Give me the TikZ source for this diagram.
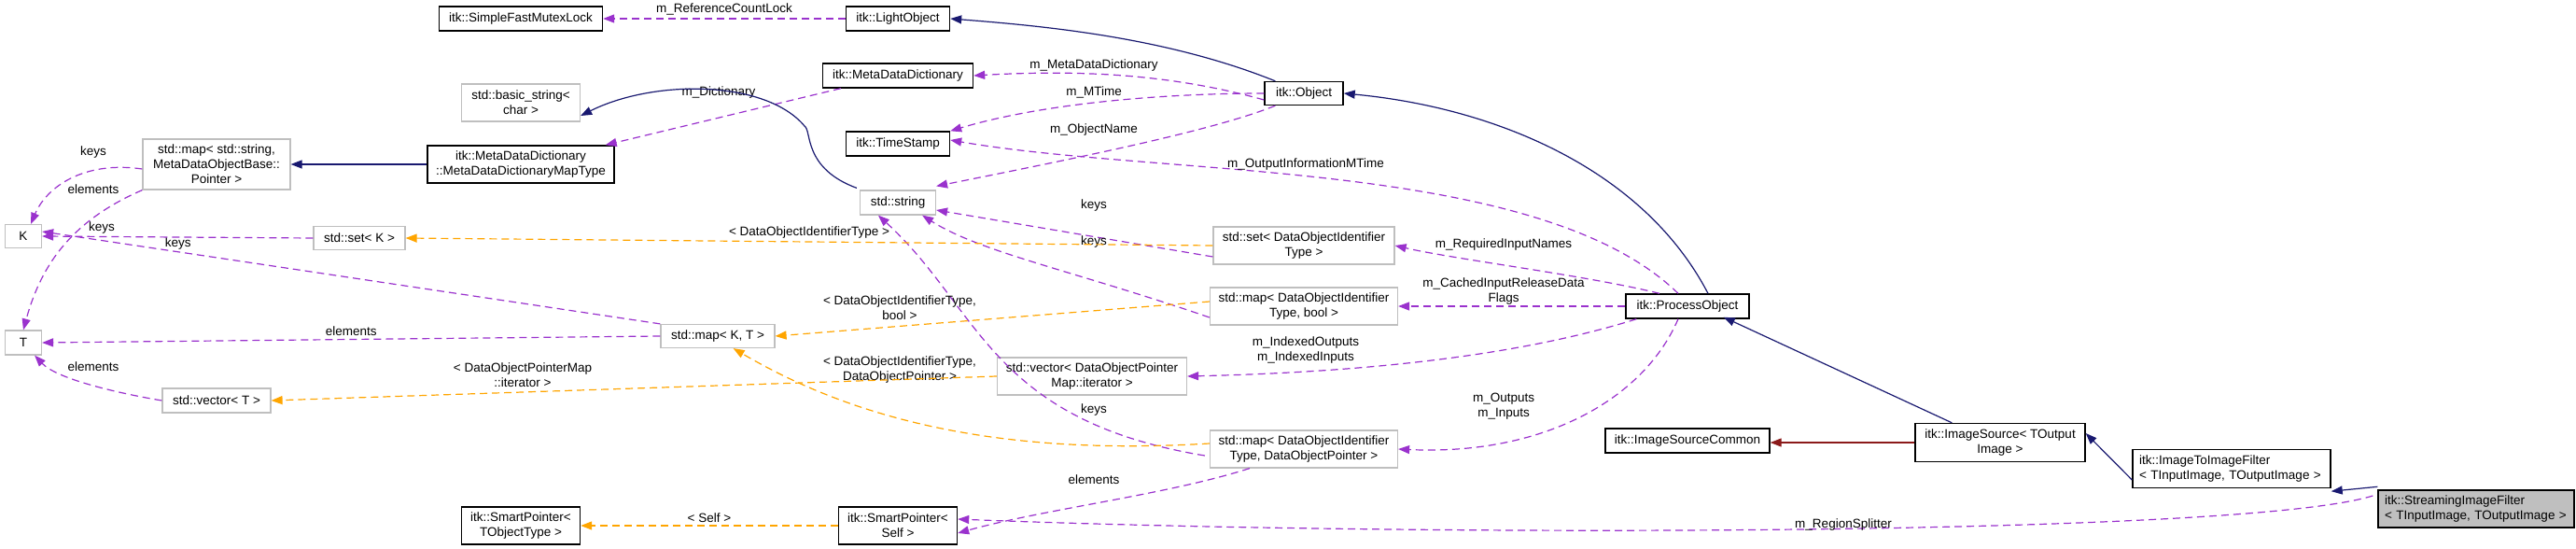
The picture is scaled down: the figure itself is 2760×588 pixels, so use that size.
\documentclass[tikz,border=0pt]{standalone}
\usepackage{fontspec}
\setmainfont{Liberation Sans}
\usetikzlibrary{arrows.meta}
\definecolor{pur}{HTML}{9A32CD}
\definecolor{org}{HTML}{FFA500}
\definecolor{nav}{HTML}{191970}
\definecolor{fir}{HTML}{8B1A1A}
\definecolor{gbd}{HTML}{BFBFBF}
\begin{document}
\begin{tikzpicture}[x=1pt,y=-1pt,
  every node/.style={font=\fontsize{13.5}{16}\selectfont},
  cls/.style={draw=black,line width=1.4pt,fill=white,inner sep=0,align=center},
  std/.style={draw=gbd,line width=1.2pt,fill=white,inner sep=0,align=center},
  lcls/.style={cls,align=left,text width=#1-14pt},
  mem/.style={draw=pur,dashed,line width=1.2pt,dash pattern=on 8pt off 5pt,-{Triangle[length=12pt,width=9pt]}},
  tpl/.style={draw=org,dashed,line width=1.2pt,dash pattern=on 8pt off 5pt,-{Triangle[length=12pt,width=9pt]}},
  inh/.style={draw=nav,line width=1.2pt,-{Triangle[length=12pt,width=9pt]}},
  prv/.style={draw=fir,line width=1.2pt,-{Triangle[length=12pt,width=9pt]}},
  lab/.style={inner sep=0,align=center}]
\useasboundingbox (0,0) rectangle (2760,588);
% nodes
\node[cls,minimum width=175,minimum height=26] (sfml) at (558,20) {itk::SimpleFastMutexLock};
\node[cls,minimum width=111,minimum height=26] (light) at (962,20) {itk::LightObject};
\node[cls,minimum width=161,minimum height=26] (mdd) at (962,81) {itk::MetaDataDictionary};
\node[cls,minimum width=111,minimum height=26] (ts) at (962,154) {itk::TimeStamp};
\node[std,minimum width=81,minimum height=26] (str) at (962,217) {std::string};
\node[std,minimum width=127,minimum height=40] (bstr) at (558,110) {std::basic\_string<\\char >};
\node[cls,minimum width=84,minimum height=25] (obj) at (1397,100) {itk::Object};
\node[std,minimum width=158,minimum height=54] (mapstr) at (232,176) {std::map< std::string,\\MetaDataObjectBase::\\Pointer >};
\node[cls,minimum width=200,minimum height=40] (mddmt) at (558,176) {itk::MetaDataDictionary\\::MetaDataDictionaryMapType};
\node[std,minimum width=39,minimum height=25] (K) at (25,253) {K};
\node[std,minimum width=39,minimum height=26] (T) at (25,367) {T};
\node[std,minimum width=98,minimum height=25] (setK) at (385,255) {std::set< K >};
\node[std,minimum width=122,minimum height=25] (mapKT) at (769,360) {std::map< K, T >};
\node[std,minimum width=116,minimum height=26] (vecT) at (232,429) {std::vector< T >};
\node[cls,minimum width=127,minimum height=40] (spt) at (558,563) {itk::SmartPointer<\\TObjectType >};
\node[cls,minimum width=127,minimum height=40] (sps) at (962,563) {itk::SmartPointer<\\Self >};
\node[std,minimum width=194,minimum height=40] (setD) at (1397,263) {std::set< DataObjectIdentifier\\Type >};
\node[std,minimum width=201,minimum height=40] (mapDB) at (1397,328) {std::map< DataObjectIdentifier\\Type, bool >};
\node[std,minimum width=203,minimum height=40] (vecD) at (1170,403) {std::vector< DataObjectPointer\\Map::iterator >};
\node[std,minimum width=201,minimum height=40] (mapDP) at (1397,481) {std::map< DataObjectIdentifier\\Type, DataObjectPointer >};
\node[cls,minimum width=132,minimum height=26] (po) at (1808,328) {itk::ProcessObject};
\node[cls,minimum width=176,minimum height=26] (isc) at (1808,472) {itk::ImageSourceCommon};
\node[cls,minimum width=182,minimum height=41] (is) at (2143,474) {itk::ImageSource< TOutput\\Image >};
\node[lcls=212pt,minimum width=212,minimum height=41] (i2i) at (2391,502) {itk::ImageToImageFilter\\< TInputImage, TOutputImage >};
\node[lcls=210pt,minimum width=210,minimum height=40,fill=gbd] (sif) at (2653,545) {itk::StreamingImageFilter\\< TInputImage, TOutputImage >};
% edges
\draw[mem] (light.west) -- node[lab,above=3pt]{m\_ReferenceCountLock} (sfml.east);
\draw[inh] ([xshift=12pt]obj.north west) .. controls (1250,40) and (1120,28) .. (light.east);
\draw[mem] ([yshift=-7pt]obj.west) .. controls (1250,78) and (1150,75) .. (mdd.east);
\draw[mem] (obj.west) .. controls (1250,100) and (1120,110) .. (ts.north east);
\draw[mem] ([xshift=12pt]obj.south west) .. controls (1300,140) and (1150,170) .. ([yshift=4pt]str.north east);
\draw[inh] ([xshift=22pt]po.north) .. controls (1760,180) and (1600,115) .. (obj.east);
\draw[mem] ([xshift=-10pt]po.north) .. controls (1650,170) and (1250,190) .. ([yshift=4pt]ts.east);
\draw[mem] ([xshift=-30pt]po.north) .. controls (1700,295) and (1560,278) .. (setD.east);
\draw[mem] (po.west) -- (mapDB.east);
\draw[mem] ([xshift=12pt]po.south west) .. controls (1600,390) and (1400,400) .. (vecD.east);
\draw[mem] ([xshift=-10pt]po.south) .. controls (1760,430) and (1650,488) .. (mapDP.east);
\node[lab] at (1399,176) {m\_OutputInformationMTime};
\node[lab] at (1611,262) {m\_RequiredInputNames};
\node[lab] at (1611,312) {m\_CachedInputReleaseData\\Flags};
\node[lab] at (1399,375) {m\_IndexedOutputs\\m\_IndexedInputs};
\node[lab] at (1611,435) {m\_Outputs\\m\_Inputs};
\node[lab] at (1172,70) {m\_MetaDataDictionary};
\node[lab] at (1172,99) {m\_MTime};
\node[lab] at (1172,139) {m\_ObjectName};
\draw[inh] ([xshift=40pt]is.north west) -- ([xshift=-28pt,yshift=2pt]po.south east);
\draw[prv] (is.west) -- (isc.east |- is.west);
\draw[inh] ([yshift=-12pt]i2i.west) -- ([yshift=10pt]is.east);
\draw[inh] ([yshift=3pt]sif.north west) -- ([yshift=-3pt]i2i.south east);
\draw[mem] ([xshift=-5pt,yshift=14pt]sif.west) .. controls (2400,575) and (1500,575) .. ([yshift=7pt]sps.east);
\node[lab] at (1975,562) {m\_RegionSplitter};
\draw[tpl] (sps.west) -- node[lab,above=3pt]{< Self >} (spt.east);
\draw[mem] ([xshift=43pt]mapDP.south west) .. controls (1250,530) and (1120,545) .. ([yshift=-8pt]sps.east);
\node[lab] at (1172,514) {elements};
\draw[mem] ([xshift=-5pt,yshift=-7pt]mapDP.west) .. controls (1060,450) and (1050,330) .. ([xshift=20pt]str.south west);
\node[lab] at (1172,439) {keys};
\draw[tpl] ([yshift=6pt]mapDP.west) .. controls (1050,490) and (900,440) .. ([xshift=-45pt]mapKT.south east);
\node[lab] at (964,396) {< DataObjectIdentifierType,\\DataObjectPointer >};
\draw[mem] ([yshift=-12pt]setD.west) -- ([yshift=-8pt]str.east);
\node[lab] at (1172,220) {keys};
\draw[mem] ([yshift=-12pt]mapDB.west) .. controls (1150,290) and (1050,270) .. ([xshift=-15pt]str.south east);
\node[lab] at (1172,259) {keys};
\draw[tpl] (setD.west) -- node[lab,above=3pt,pos=0.5]{< DataObjectIdentifierType >} (setK.east);
\draw[tpl] ([yshift=5pt]mapDB.west) -- (mapKT.east);
\node[lab] at (964,330) {< DataObjectIdentifierType,\\bool >};
\draw[tpl] (vecD.west) -- (vecT.east);
\node[lab] at (560,402) {< DataObjectPointerMap\\::iterator >};
\draw[mem] (mapKT.north west) -- node[lab,pos=0.78,above=2pt]{keys} ([yshift=5pt]K.east);
\draw[mem] (mapKT.west) -- node[lab,pos=0.5,above=3pt]{elements} (T.east);
\draw[mem] (vecT.west) .. controls (120,420) and (60,405) .. ([xshift=-8pt]T.south east);
\node[lab] at (100,393) {elements};
\draw[mem] (setK.west) -- node[lab,pos=0.78,above=3pt]{keys} (K.east);
\draw[mem] ([yshift=-5pt]mapstr.west) .. controls (90,172) and (50,200) .. ([xshift=8pt]K.north);
\node[lab] at (100,163) {keys};
\draw[mem] (mapstr.south west) .. controls (80,235) and (45,280) .. (T.north);
\node[lab] at (100,203) {elements};
\draw[inh] (mddmt.west) -- (mapstr.east);
\draw[mem] ([xshift=20pt]mdd.south west) -- ([xshift=-10pt]mddmt.north east);
\node[lab] at (770,99) {m\_Dictionary};
\draw[inh] ([xshift=-3pt,yshift=2pt]str.north west) .. controls (860,180) and (870,140) .. (862,135) .. controls (820,85) and (700,85) .. ([yshift=-14pt]bstr.east);
\end{tikzpicture}
\end{document}
